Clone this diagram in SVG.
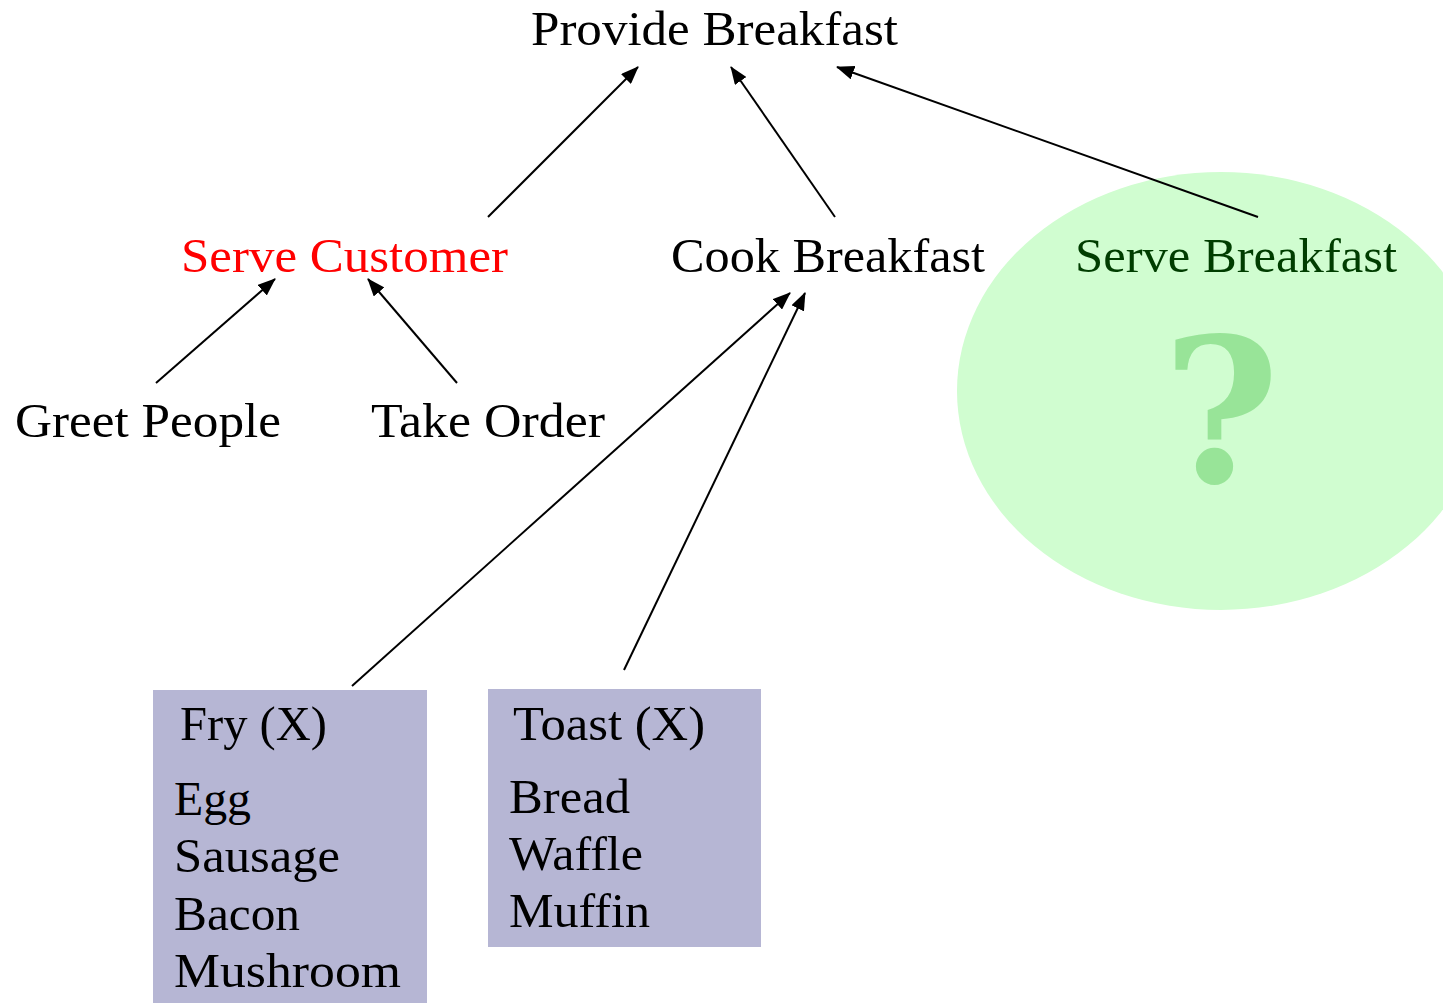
<svg xmlns="http://www.w3.org/2000/svg" width="1443" height="1003" viewBox="0 0 1443 1003">
  <defs>
    <marker id="arrow" markerUnits="userSpaceOnUse" markerWidth="18" markerHeight="14" refX="17" refY="7" orient="auto">
      <path d="M0,0 L18,7 L0,14 Z" fill="#000"/>
    </marker>
    <style>
      text { font-family: "Liberation Serif", "DejaVu Serif", serif; font-size: 48px; fill: #000; }
      .goal { fill: #ff0000; }
      .open { fill: #003d00; }
      .item { font-size: 48px; }
      .box { fill: #b6b6d4; }
      .edge { stroke: #000; stroke-width: 2; fill: none; marker-end: url(#arrow); }
      .mark { font-family: "DejaVu Serif", "Liberation Serif", serif; font-size: 200px; font-weight: bold; fill: #98e498; }
    </style>
  </defs>
  <rect width="1443" height="1003" fill="#fff"/>

  <!-- unresolved sub-goal highlight -->
  <g id="serve-breakfast-area">
    <ellipse cx="1221" cy="391" rx="264" ry="219" fill="#d0fdd0"/>
    <text class="mark" x="1221" y="482" text-anchor="middle">?</text>
  </g>

  <g id="connectors">
    <line class="edge" x1="488" y1="217" x2="638" y2="67"/>
    <line class="edge" x1="835" y1="217" x2="731" y2="67"/>
    <line class="edge" x1="1258" y1="217" x2="837" y2="67"/>
    <line class="edge" x1="156" y1="383" x2="275" y2="279"/>
    <line class="edge" x1="457" y1="383" x2="368" y2="279"/>
    <line class="edge" x1="352" y1="686" x2="790" y2="293"/>
    <line class="edge" x1="624" y1="670" x2="805" y2="293"/>
  </g>

  <g id="provide-breakfast">
    <text x="531" y="45" textLength="367" lengthAdjust="spacingAndGlyphs">Provide Breakfast</text>
  </g>
  <g id="serve-customer">
    <text class="goal" x="181" y="272" textLength="327" lengthAdjust="spacingAndGlyphs">Serve Customer</text>
  </g>
  <g id="cook-breakfast">
    <text x="671" y="272" textLength="314" lengthAdjust="spacingAndGlyphs">Cook Breakfast</text>
  </g>
  <g id="serve-breakfast">
    <text class="open" x="1075" y="272" textLength="322" lengthAdjust="spacingAndGlyphs">Serve Breakfast</text>
  </g>
  <g id="greet-people">
    <text x="15" y="437" textLength="266" lengthAdjust="spacingAndGlyphs">Greet People</text>
  </g>
  <g id="take-order">
    <text x="371" y="437" textLength="234" lengthAdjust="spacingAndGlyphs">Take Order</text>
  </g>

  <g id="fry">
    <rect class="box" x="153" y="690" width="274" height="313"/>
    <text x="180" y="740" textLength="147" lengthAdjust="spacingAndGlyphs">Fry (X)</text>
    <text class="item" x="174" y="815" textLength="77" lengthAdjust="spacingAndGlyphs">Egg</text>
    <text class="item" x="174" y="872" textLength="166" lengthAdjust="spacingAndGlyphs">Sausage</text>
    <text class="item" x="174" y="930" textLength="126" lengthAdjust="spacingAndGlyphs">Bacon</text>
    <text class="item" x="174" y="987" textLength="227" lengthAdjust="spacingAndGlyphs">Mushroom</text>
  </g>

  <g id="toast">
    <rect class="box" x="488" y="689" width="273" height="258"/>
    <text x="513" y="740" textLength="192" lengthAdjust="spacingAndGlyphs">Toast (X)</text>
    <text class="item" x="509" y="813" textLength="121" lengthAdjust="spacingAndGlyphs">Bread</text>
    <text class="item" x="509" y="870" textLength="134" lengthAdjust="spacingAndGlyphs">Waffle</text>
    <text class="item" x="509" y="927" textLength="141" lengthAdjust="spacingAndGlyphs">Muffin</text>
  </g>
</svg>
